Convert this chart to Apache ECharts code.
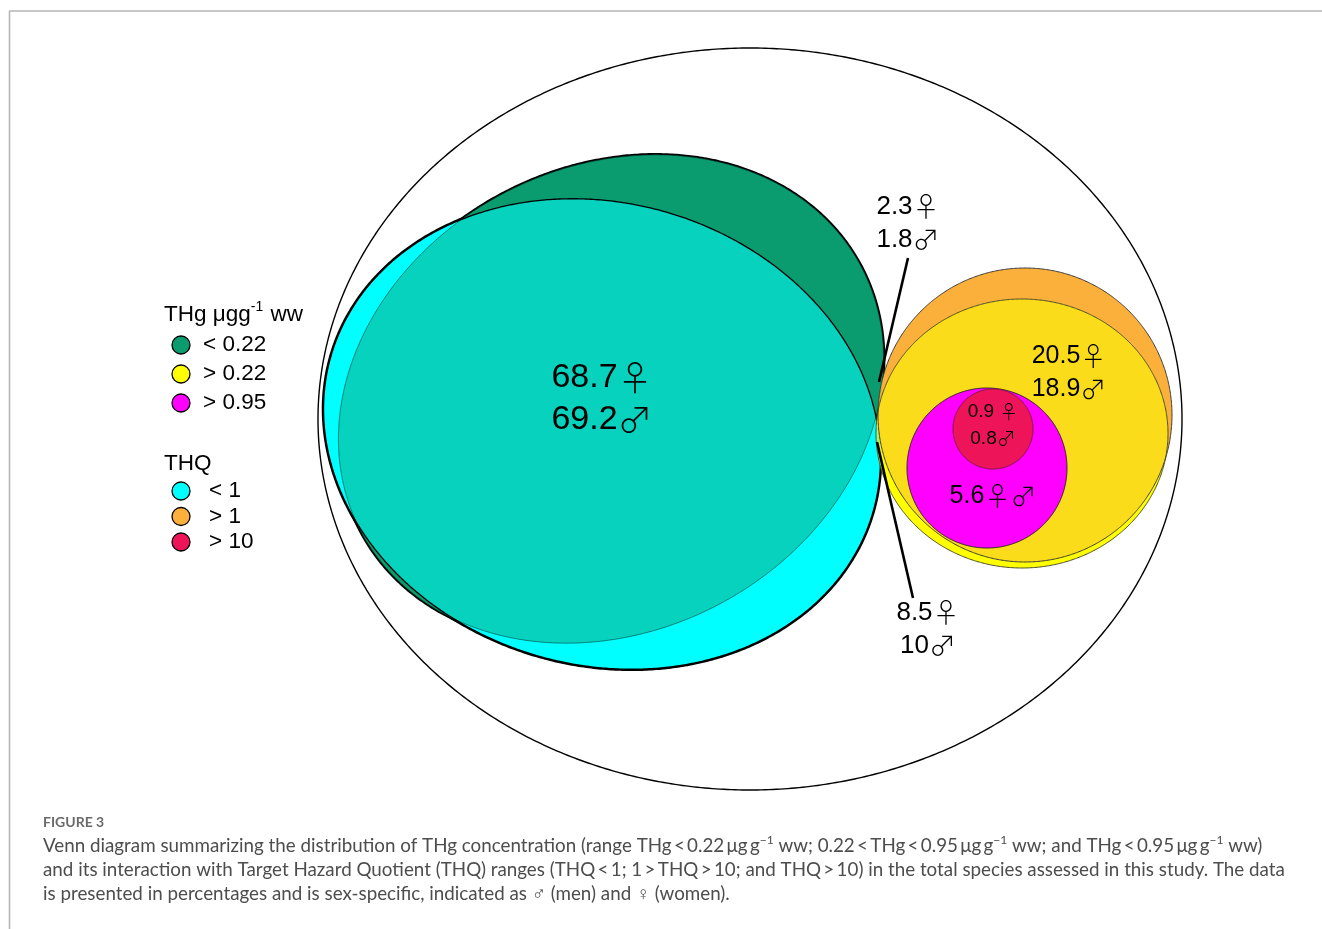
<!DOCTYPE html>
<html>
<head>
<meta charset="utf-8">
<script src="https://cdn.jsdelivr.net/npm/echarts@6/dist/echarts.min.js"></script>
<style>
  html, body { margin: 0; padding: 0; background: #ffffff; }
  #chart { width: 1322px; height: 929px; }
</style>
</head>
<body>
<div id="chart"></div>
<script>
// ---- Categories -------------------------------------------------------
const thgLevels = ['< 0.22', '> 0.22', '> 0.95'];
const thqLevels = ['< 1', '> 1', '> 10'];

// ---- Region values (% of species), women and men ----------------------
const regionNames = [
  'THg < 0.22, THQ < 1',
  'THg < 0.22, THQ > 1',
  'THg > 0.22, THQ > 1',
  'THQ > 10',
  'THg > 0.95',
  'THg > 0.22, THQ < 1'
];
const womenPct = [68.7, 2.3, 20.5, 0.9, 5.6, 8.5];
const menPct   = [69.2, 1.8, 18.9, 0.8, 5.6, 10];

// ---- Layout (diagram units on hidden 1322 x 929 axes) -----------------
// ellipse: [cx, cy, semi-axis a, semi-axis b, rotation deg (clockwise)]
const geom = {
  all:     [750, 419, 432, 371, 0],
  thgLow:  [611, 399, 283, 232, -28],
  thqLow:  [602, 434, 282, 231, 16],
  thqMid:  [1025, 415, 147, 147, 0],
  thgMid:  [1022, 433.5, 146, 134.5, 0],
  thgHigh: [987, 468, 80, 80, 0],
  thqHigh: [993, 429, 40, 40, 0]
};
// label anchor (centre of the text block) for each region
const labelAnchor = [[602, 399], [908, 223], [1069, 373], [993, 425], [993, 496], [928, 629]];
const labelFont   = [34, 26, 25, 19, 25, 26];
const labelLine   = [42, 33, 33, 27, 30, 33];
// leader lines from the small overlap regions to their labels
const leaders = [
  [[908, 258], [879, 382]],
  [[877, 442], [913, 598]]
];

// ---- Colours ----------------------------------------------------------
const col = {
  thgLow: '#0A9C6F', thqLow: '#00FFFF', teal: '#06D2BE',
  thqMid: '#FBB03B', thgMid: '#FFFF00', gold: '#FBDC1A',
  thgHigh: '#FF00FF', thqHigh: '#EE1459',
  olive: '#B0B556', lime: '#A4F57E'
};
const thgColors = [col.thgLow, col.thgMid, col.thgHigh];
const thqColors = [col.thqLow, col.thqMid, col.thqHigh];

const FONT = '"Liberation Sans", Arial, "DejaVu Sans", sans-serif';
const SYM_FONT = '"Noto Sans CJK JP", "DejaVu Sans", sans-serif';
const CAP_FONT = 'Lato, "Open Sans", sans-serif';

// ---- Geometry helpers -------------------------------------------------
function ellipsePts(g, n) {
  const [cx, cy, a, b, deg] = g;
  const r = deg * Math.PI / 180, c = Math.cos(r), s = Math.sin(r);
  const pts = [];
  for (let i = 0; i < n; i++) {
    const t = 2 * Math.PI * i / n;
    const u = a * Math.cos(t), v = b * Math.sin(t);
    pts.push([cx + u * c - v * s, cy + u * s + v * c]);
  }
  return pts;
}
function inside(g, p) {
  const [cx, cy, a, b, deg] = g;
  const r = deg * Math.PI / 180;
  const dx = p[0] - cx, dy = p[1] - cy;
  const u = dx * Math.cos(r) + dy * Math.sin(r);
  const v = -dx * Math.sin(r) + dy * Math.cos(r);
  return (u * u) / (a * a) + (v * v) / (b * b) <= 1;
}
// overlap of two convex ellipses as a polygon
function overlap(gA, gB, n) {
  const pts = ellipsePts(gA, n).filter(p => inside(gB, p))
    .concat(ellipsePts(gB, n).filter(p => inside(gA, p)));
  if (pts.length < 3) return null;
  let mx = 0, my = 0;
  pts.forEach(p => { mx += p[0]; my += p[1]; });
  mx /= pts.length; my /= pts.length;
  pts.sort((p, q) => Math.atan2(p[1] - my, p[0] - mx) - Math.atan2(q[1] - my, q[0] - mx));
  return pts;
}

function regionText(i) {
  if (womenPct[i] === menPct[i]) return '{d|' + womenPct[i] + '}{g|\u2640\u2642}';
  const gap = labelFont[i] < 20 ? ' ' : '';
  return '{d|' + womenPct[i] + gap + '}{g|\u2640}\n{d|' + menPct[i] + '}{g|\u2642}';
}

function renderItem(params, api) {
  const N = 720;
  const px = pts => pts.map(p => api.coord(p));
  const shape = (g, style) => ({ type: 'polygon', shape: { points: px(ellipsePts(g, N)) }, style: style });
  const lens = (gA, gB, style) => {
    const pts = overlap(gA, gB, N);
    return pts ? { type: 'polygon', shape: { points: px(pts) }, style: style } : null;
  };
  const none = 'none';
  const ch = [];

  // whole sample
  ch.push(shape(geom.all, { fill: '#ffffff', stroke: '#000', lineWidth: 1.4 }));

  // THg < 0.22 and THQ < 1
  ch.push(shape(geom.thgLow, { fill: none, stroke: '#000', lineWidth: 3.6 }));
  ch.push(shape(geom.thqLow, { fill: none, stroke: '#000', lineWidth: 3.6 }));
  ch.push(shape(geom.thgLow, { fill: col.thgLow }));
  ch.push(shape(geom.thqLow, { fill: col.thqLow }));
  ch.push(lens(geom.thgLow, geom.thqLow, { fill: col.teal }));
  ch.push(shape(geom.thgLow, { fill: none, stroke: 'rgba(0,50,40,0.55)', lineWidth: 1 }));
  ch.push(shape(geom.thqLow, { fill: none, stroke: '#000', lineWidth: 1.3 }));

  // THQ > 1 and THg > 0.22
  ch.push(shape(geom.thqMid, { fill: col.thqMid }));
  ch.push(shape(geom.thgMid, { fill: col.thgMid }));
  ch.push(lens(geom.thqMid, geom.thgMid, { fill: col.gold }));
  ch.push(lens(geom.thgLow, geom.thqMid, { fill: col.olive }));
  ch.push(lens(geom.thqLow, geom.thgMid, { fill: col.lime }));
  ch.push(shape(geom.thqMid, { fill: none, stroke: '#3a3a3a', lineWidth: 1 }));
  ch.push(shape(geom.thgMid, { fill: none, stroke: '#4a4a2a', lineWidth: 1 }));

  // THg > 0.95 and THQ > 10
  ch.push(shape(geom.thgHigh, { fill: col.thgHigh, stroke: '#222', lineWidth: 1 }));
  ch.push(shape(geom.thqHigh, { fill: col.thqHigh, stroke: '#7a1a3a', lineWidth: 1 }));

  // leader lines
  leaders.forEach(l => {
    const a = api.coord(l[0]), b = api.coord(l[1]);
    ch.push({ type: 'line', shape: { x1: a[0], y1: a[1], x2: b[0], y2: b[1] },
      style: { stroke: '#000', lineWidth: 2.6 } });
  });

  // region labels
  labelAnchor.forEach((p, i) => {
    const c = api.coord(p);
    ch.push({ type: 'text', x: c[0], y: c[1], style: {
      text: regionText(i), fill: '#000', align: 'center', verticalAlign: 'middle',
      rich: {
        d: { fontFamily: FONT, fontSize: labelFont[i], lineHeight: labelLine[i], fill: '#000' },
        g: { fontFamily: SYM_FONT, fontWeight: 300, fontSize: Math.round(labelFont[i] * 1.02), lineHeight: labelLine[i], fill: '#000' }
      }
    } });
  });

  return { type: 'group', children: ch.filter(Boolean) };
}

// ---- Legend and caption (graphic elements) ----------------------------
function legendBlock(title, titleRich, levels, colors, x, titleY, firstY, step, textX) {
  const els = [{
    type: 'text', left: x, top: titleY,
    style: { text: title, rich: titleRich, fontFamily: FONT, fontSize: 22.5, fill: '#000' }
  }];
  levels.forEach((lv, i) => {
    const y = firstY + i * step;
    els.push({ type: 'circle', shape: { cx: 181, cy: y, r: 9 },
      style: { fill: colors[i], stroke: '#000', lineWidth: 1.3 } });
    els.push({ type: 'text', x: textX, y: y, style: {
      text: lv, fontFamily: FONT, fontSize: 22.5, fill: '#000', verticalAlign: 'middle' } });
  });
  return els;
}

const supRich = {
  n: { fontFamily: FONT, fontSize: 22.5, lineHeight: 26, verticalAlign: 'bottom' },
  s: { fontFamily: FONT, fontSize: 14, lineHeight: 26, verticalAlign: 'top', padding: [0, 1, 0, 0] }
};
const capRich = {
  n: { fontFamily: CAP_FONT, fontSize: 18.8, lineHeight: 24, fill: '#4d4d4d', verticalAlign: 'middle' },
  s: { fontFamily: CAP_FONT, fontSize: 12, lineHeight: 24, fill: '#4d4d4d', verticalAlign: 'top' }
};
const ug = '\u2009\u03bcg\u2009g}{s|\u22121}{n|';
const capLines = [
  '{n|Venn diagram summarizing the distribution of THg concentration (range THg\u2009<\u20090.22' + ug +
    ' ww; 0.22\u2009<\u2009THg\u2009<\u20090.95' + ug + ' ww; and THg\u2009<\u20090.95' + ug + ' ww)}',
  '{n|and its interaction with Target Hazard Quotient (THQ) ranges (THQ\u2009<\u20091; 1\u2009>\u2009THQ\u2009>\u200910; and THQ\u2009>\u200910) in the total species assessed in this study. The data}',
  '{n|is presented in percentages and is sex-specific, indicated as \u2642 (men) and \u2640 (women).}'
];

const graphics = []
  .concat([
    { type: 'line', shape: { x1: 9, y1: 11, x2: 1322, y2: 11 }, style: { stroke: '#b5b5b5', lineWidth: 1.6 } },
    { type: 'line', shape: { x1: 9.5, y1: 11, x2: 9.5, y2: 929 }, style: { stroke: '#b5b5b5', lineWidth: 1.6 } }
  ])
  .concat(legendBlock('{n|THg \u03bcgg}{s|-1}{n| ww}', supRich, thgLevels, thgColors, 164, 300, 345, 29, 203))
  .concat(legendBlock('THQ', null, thqLevels, thqColors, 164, 452, 491, 25.5, 209))
  .concat([
    { type: 'text', left: 43, top: 815, style: { text: 'FIGURE 3', fontFamily: CAP_FONT, fontSize: 14, fontWeight: 'bold', fill: '#6a6a6a' } }
  ])
  .concat(capLines.map((t, i) => ({
    type: 'text', x: 43, y: 846 + i * 24,
    style: { text: t, rich: capRich, verticalAlign: 'middle' }
  })));

const chart = echarts.init(document.getElementById('chart'), null, { renderer: 'canvas' });
chart.setOption({
  animation: false,
  backgroundColor: '#ffffff',
  grid: { left: 0, right: 0, top: 0, bottom: 0, containLabel: false },
  xAxis: { type: 'value', min: 0, max: 1322, show: false },
  yAxis: { type: 'value', min: 0, max: 929, inverse: true, show: false },
  series: [{
    type: 'custom',
    name: 'Venn',
    coordinateSystem: 'cartesian2d',
    silent: true,
    clip: false,
    data: [[0, 0]],
    renderItem: renderItem
  }],
  graphic: graphics
});
</script>
</body>
</html>
